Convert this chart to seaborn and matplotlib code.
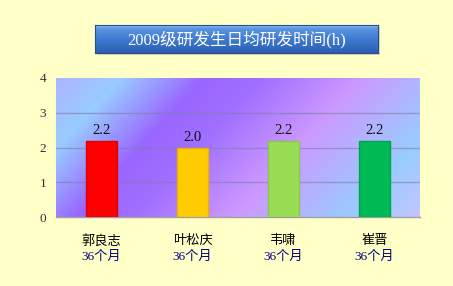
import numpy as np
import pandas as pd
import matplotlib
matplotlib.use("Agg")
import matplotlib.pyplot as plt
from matplotlib.colors import LinearSegmentedColormap
import matplotlib.transforms as mtransforms
import seaborn as sns

names = ["郭良志", "叶松庆", "韦啸", "崔晋"]
durations = ["36个月", "36个月", "36个月", "36个月"]
hours = [2.2, 2.0, 2.2, 2.2]
bar_colors = ["#FF0000", "#FFCC00", "#99DD55", "#00BB55"]
edge_colors = ["#E00000", "#E8B400", "#88C84A", "#00A34C"]
title = "2009级研发生日均研发时间(h)"
yticks = [0, 1, 2, 3, 4]

sns.set_theme(style="white")
FAM = ["Liberation Serif", "Noto Sans CJK SC", "DejaVu Sans"]
plt.rcParams["font.family"] = FAM

bg = "#FFFFC8"
fig = plt.figure(figsize=(4.53, 2.86), dpi=100, facecolor=bg)
ax = fig.add_axes([56 / 453, 69 / 286, 364 / 453, 139 / 286])

df = pd.DataFrame({"name": names, "hours": hours})
sns.barplot(data=df, x="name", y="hours", hue="name", palette=bar_colors,
            width=0.35, dodge=False, legend=False, ax=ax, zorder=3,
            saturation=1)
for patch, ec in zip(ax.patches, edge_colors):
    patch.set_edgecolor(ec)
    patch.set_linewidth(1.0)

# gradient background
W, H = 364, 139
xx, yy = np.meshgrid(np.arange(W), np.arange(H))
s = (xx + 0.92 * yy) / (W + 0.92 * H)
cmap = LinearSegmentedColormap.from_list("bg", [
    (0.0, "#AEB4FF"), (0.13, "#99CCFF"), (0.30, "#9966FF"),
    (0.42, "#A070FF"), (0.62, "#CC99FF"), (0.86, "#99CCFF"),
    (1.0, "#C4C4FF")])
ax.imshow(s, cmap=cmap, aspect="auto", extent=(-0.5, 3.5, 0, 4),
          origin="upper", zorder=0, interpolation="bilinear")
ax.set_xlim(-0.5, 3.5)
ax.set_ylim(0, 4)

for v in [1, 2, 3]:
    ax.axhline(v, color="#7F7FA8", lw=1.0, alpha=0.6, zorder=1)

for sp in ["top", "right", "left"]:
    ax.spines[sp].set_visible(False)
ax.spines["bottom"].set_color("#A0A0A0")
ax.spines["bottom"].set_linewidth(1.0)

ax.set_yticks(yticks)
ax.set_yticklabels([str(t) for t in yticks], fontsize=9.5, color="#333333")
ax.tick_params(axis="y", length=0, pad=7)
ax.set_xticks([])
ax.set_xlabel("")
ax.set_ylabel("")

for i, v in enumerate(hours):
    ax.text(i, v + 0.1, f"{v:.1f}", ha="center", va="bottom",
            fontsize=10.5, color="#111111", zorder=4)

trans = mtransforms.blended_transform_factory(ax.transData, ax.transAxes)
for i, (n, d) in enumerate(zip(names, durations)):
    ax.text(i, -0.175, n, transform=trans, ha="center", va="center",
            fontsize=9.5, color="black", family=FAM)
    ax.text(i, -0.285, d, transform=trans, ha="center", va="center",
            fontsize=9.5, color="#000080", family=FAM)

# title box shadow
sax = fig.add_axes([97 / 453, (286 - 55) / 286, 283 / 453, 28 / 286])
sax.set_facecolor("#D8D8B0")
sax.set_xticks([])
sax.set_yticks([])
for sp in sax.spines.values():
    sp.set_visible(False)

# title box
tax = fig.add_axes([95 / 453, (286 - 53) / 286, 283 / 453, 28 / 286])
grad = np.linspace(0, 1, 50).reshape(-1, 1)
tcmap = LinearSegmentedColormap.from_list(
    "tb", [(0, "#8EC0F4"), (0.12, "#5C94E0"), (0.5, "#3F7BD2"), (1, "#2C5EAE")])
tax.imshow(grad, cmap=tcmap, aspect="auto", extent=(0, 1, 0, 1), origin="upper")
tax.set_xlim(0, 1)
tax.set_ylim(0, 1)
tax.set_xticks([])
tax.set_yticks([])
for sp in tax.spines.values():
    sp.set_color("#2A4E8A")
    sp.set_linewidth(0.8)
tax.text(0.5, 0.48, title, ha="center", va="center", fontsize=12,
         color="white", family=FAM)

fig.savefig("out.png", dpi=100, facecolor=bg)
